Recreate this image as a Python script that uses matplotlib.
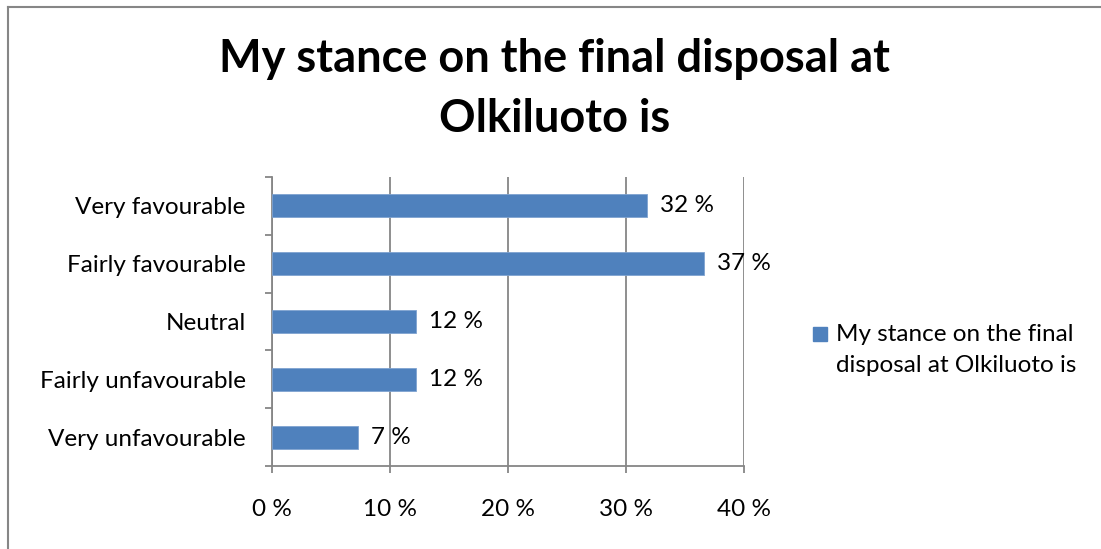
import matplotlib.pyplot as plt
from matplotlib.lines import Line2D
from matplotlib.patches import Rectangle

# data
categories = ['Very favourable', 'Fairly favourable', 'Neutral',
              'Fairly unfavourable', 'Very unfavourable']
values = [31.8, 36.6, 12.2, 12.2, 7.3]
x_ticks = [0, 10, 20, 30, 40]
series_name = 'My stance on the final\ndisposal at Olkiluoto is'
title = 'My stance on the final disposal at\nOlkiluoto is'

plt.rcParams['font.family'] = ['Lato', 'DejaVu Sans']
bar_color = '#4F81BD'
grey = '#868686'
fs = 17.5
W, H = 1101, 549

fig = plt.figure(figsize=(11.01, 5.49), dpi=100)
ax = fig.add_axes([272 / W, 1 - 466 / H, 472 / W, 289 / H])

y = list(range(len(categories)))
ax.barh(y, values, height=0.4, color=bar_color, edgecolor='#7FA3D0',
        linewidth=0.6, zorder=3)
for yi, v in zip(y, values):
    ax.text(v + 1.1, yi, f'{round(v)} %', va='center', ha='left',
            fontsize=fs, color='black', zorder=4)

ax.set_xlim(0, 40)
ax.set_ylim(len(categories) - 0.5, -0.5)
ax.set_xticks(x_ticks)
ax.set_xticklabels([f'{t} %' for t in x_ticks], fontsize=fs)
ax.set_yticks(y)
ax.set_yticklabels(categories, fontsize=fs)
ax.set_yticks([i - 0.5 for i in range(len(categories) + 1)], minor=True)

ax.grid(axis='x', color=grey, linewidth=1.3, zorder=0)
for side in ['top', 'right']:
    ax.spines[side].set_visible(False)
for side in ['left', 'bottom']:
    ax.spines[side].set_color(grey)
    ax.spines[side].set_linewidth(1.3)
ax.tick_params(axis='y', which='major', length=0, pad=19)
ax.tick_params(axis='y', which='minor', length=5, width=1.3, color=grey)
ax.tick_params(axis='x', length=5, width=1.3, color=grey, pad=19)

fig.text(0.504, 1 - 89 / H, title, ha='center', va='center',
         fontsize=32.5, fontweight='bold', linespacing=1.55)

# legend: square aligned with the first text line, like the original
fig.add_artist(Rectangle((813 / W, 1 - 341 / H), 14 / W, 14 / H,
                         facecolor=bar_color, edgecolor=bar_color,
                         transform=fig.transFigure))
fig.text(836 / W, 1 - 350 / H, series_name, ha='left', va='center',
         fontsize=fs, linespacing=1.6)

# chart frame (left and top edges visible)
fig.add_artist(Line2D([8 / W, 8 / W], [0, 1 - 7 / H],
                      color=grey, linewidth=1.5, transform=fig.transFigure))
fig.add_artist(Line2D([8 / W, 1], [1 - 7 / H, 1 - 7 / H],
                      color=grey, linewidth=1.5, transform=fig.transFigure))

fig.savefig('out.png', dpi=100, facecolor='white')
